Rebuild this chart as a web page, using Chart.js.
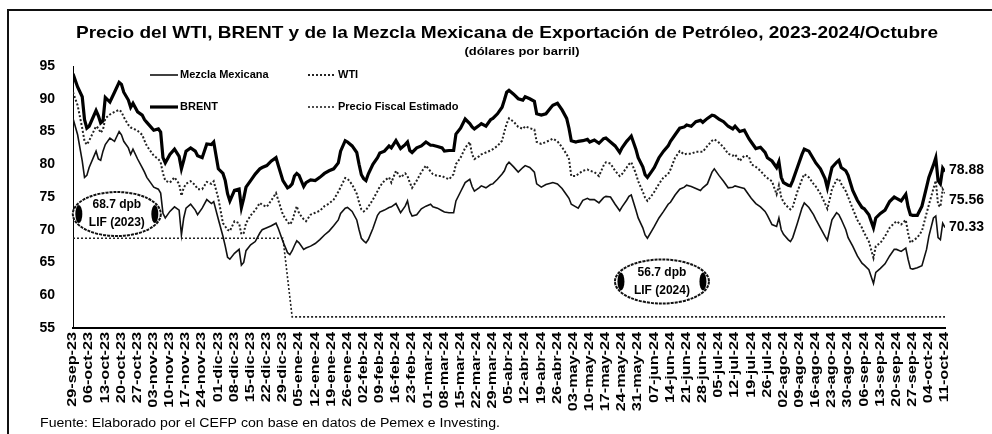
<!DOCTYPE html>
<html lang="es">
<head>
<meta charset="utf-8">
<title>Precio del WTI, BRENT y Mezcla Mexicana</title>
<script src="https://cdn.jsdelivr.net/npm/chart.js@4.4.1/dist/chart.umd.min.js"></script>
<style>
  html, body { margin: 0; padding: 0; background: #fff; }
  #wrap { position: relative; width: 992px; height: 434px; overflow: hidden; }
  #marco { position: absolute; left: 7px; top: 9px; width: 1000px; height: 440px;
           border-left: 2px solid #111; border-top: 2px solid #111; }
  canvas { position: absolute; left: 0; top: 0; }
</style>
</head>
<body>
<div id="wrap">
  <div id="marco"></div>
  <canvas id="grafica" width="992" height="434"></canvas>
</div>
<script>
// etiquetas semanales del eje x (viernes)
const semanas = [
  "29-sep-23","06-oct-23","13-oct-23","20-oct-23","27-oct-23","03-nov-23","10-nov-23","17-nov-23",
  "24-nov-23","01-dic-23","08-dic-23","15-dic-23","22-dic-23","29-dic-23","05-ene-24","12-ene-24",
  "19-ene-24","26-ene-24","02-feb-24","09-feb-24","16-feb-24","23-feb-24","01-mar-24","08-mar-24",
  "15-mar-24","22-mar-24","29-mar-24","05-abr-24","12-abr-24","19-abr-24","26-abr-24","03-may-24",
  "10-may-24","17-may-24","24-may-24","31-may-24","07-jun-24","14-jun-24","21-jun-24","28-jun-24",
  "05-jul-24","12-jul-24","19-jul-24","26-jul-24","02-ago-24","09-ago-24","16-ago-24","23-ago-24",
  "30-ago-24","06-sep-24","13-sep-24","20-sep-24","27-sep-24","04-oct-24","11-oct-24"
];

// dias transcurridos desde el 29-sep-23
const dias = [
  0,2,4,5,6,7,10,11,12,13,14,16,18,20,21,22,24,25,26,28,30,31,32,34,35,37,38,39,40,42,44,46,47,48,49,51,53,54,56,58,60,61,
  63,65,66,67,68,70,72,73,74,75,77,79,81,82,84,86,88,89,91,93,94,95,96,97,98,100,101,103,105,107,109,111,113,115,116,118,119,121,123,124,125,126,
  127,128,130,132,133,135,137,138,140,142,144,145,146,147,149,151,153,155,156,158,160,161,163,165,166,168,170,172,173,174,176,177,179,181,182,184,186,187,188,189,
  191,193,195,196,198,200,201,203,205,207,208,210,212,214,215,216,218,219,221,223,224,226,228,230,231,233,235,237,238,240,241,242,244,245,247,248,249,251,252,254,256,258,
  259,261,263,265,266,268,270,272,273,275,277,278,280,282,284,286,287,289,291,293,294,296,298,300,301,303,305,306,307,308,310,311,312,314,316,317,319,321,322,
  324,326,327,328,329,331,332,333,335,336,338,340,342,343,345,347,348,350,352,354,356,357,359,361,362,363,364,366,368,370,371,373,374,375,376,377,378
];

const brent = [
  93.8,91.8,90.3,86.8,85.5,85.8,88.2,87.4,86.3,86.6,90.2,89.5,91.0,92.5,92.2,91.0,89.8,88.7,89.3,88.0,87.5,86.8,86.4,85.6,85.2,85.4,84.9,81.0,80.2,81.5,82.3,81.2,79.3,80.6,82.0,82.5,82.0,81.3,81.0,83.1,83.0,83.4,
  79.3,78.6,77.5,75.5,74.4,76.0,76.2,73.4,74.8,76.5,77.5,78.5,79.3,79.5,79.8,80.5,81.0,79.8,77.5,76.4,76.6,77.0,78.2,78.6,78.3,76.6,77.2,77.6,77.5,78.0,78.6,79.0,79.3,80.2,82.0,83.6,83.4,82.8,81.8,80.0,78.4,77.8,
  77.5,78.5,80.0,81.0,81.7,82.0,82.8,82.5,83.6,82.4,83.0,83.4,82.1,81.8,82.5,82.8,83.4,82.9,82.9,82.7,82.5,82.0,82.1,82.1,84.6,85.5,86.9,86.2,85.7,85.4,85.9,86.2,85.8,86.8,87.0,87.7,88.7,89.8,91.0,91.3,
  90.7,90.0,89.8,90.3,90.0,89.6,87.7,87.5,87.7,88.6,89.0,89.3,88.3,87.0,85.5,83.6,83.4,83.5,83.6,83.8,83.4,83.7,83.2,83.9,84.0,83.4,82.8,81.8,82.5,83.5,83.9,84.3,82.3,81.0,79.6,78.4,78.0,79.0,79.5,81.0,82.0,82.8,
  83.5,84.5,85.5,85.7,86.0,85.8,86.5,86.7,86.4,87.0,87.5,87.4,86.9,86.5,85.8,85.4,85.8,85.0,85.2,83.9,83.4,82.4,82.6,81.8,81.0,80.5,79.5,80.4,78.0,77.2,76.8,76.7,77.5,79.5,81.5,82.3,82.0,80.8,80.2,
  79.3,77.8,76.4,78.0,79.5,80.3,80.6,79.5,79.0,78.3,76.0,74.5,73.4,73.2,72.3,70.3,71.8,72.5,73.0,74.3,75.0,74.8,74.4,75.4,73.5,72.3,72.2,72.2,73.6,76.5,78.0,79.9,81.0,77.5,77.0,79.4,78.88
];

const wti = [
  91.0,89.0,85.5,83.5,83.0,83.6,85.8,85.5,84.8,85.3,87.0,87.6,88.0,88.3,88.0,87.2,86.0,85.6,85.5,85.1,84.5,83.6,82.8,81.8,81.3,80.8,80.3,78.6,77.5,77.2,78.0,77.0,75.2,76.4,77.0,77.4,76.8,76.2,76.2,77.3,77.0,77.4,
  74.8,71.0,70.5,70.0,69.8,71.3,71.0,69.3,69.5,71.0,72.2,73.0,74.1,73.8,73.5,74.5,75.6,74.5,72.3,71.2,70.8,71.3,72.5,73.6,72.5,71.6,71.3,72.3,72.6,72.9,73.6,74.0,74.6,75.8,76.5,77.9,77.8,76.9,75.5,74.2,73.1,72.8,
  73.0,73.5,74.6,75.9,76.6,77.5,78.0,77.2,79.0,78.0,78.6,78.2,77.2,76.4,77.5,78.8,79.8,78.9,78.5,78.2,78.2,78.0,77.7,78.5,80.0,81.0,82.5,83.4,81.5,80.8,81.2,81.5,81.8,82.1,82.3,82.8,83.6,85.0,86.2,87.0,
  86.5,85.7,85.4,85.8,85.5,85.3,83.4,83.1,83.4,83.7,83.9,83.5,82.6,81.5,80.8,78.2,78.2,78.5,79.0,79.2,79.0,78.8,78.2,79.8,80.3,80.1,79.0,78.2,78.5,79.5,80.0,80.3,78.6,77.4,75.8,74.9,74.4,75.3,75.8,77.0,78.0,78.5,
  79.2,81.0,82.0,81.5,81.6,81.6,81.9,81.9,81.9,82.8,83.6,83.8,83.3,82.6,81.6,81.3,81.5,80.5,81.3,81.2,80.0,79.6,79.0,78.2,77.9,77.4,75.4,76.8,75.0,74.2,73.4,73.1,73.5,75.8,77.7,78.5,78.0,77.0,76.6,
  75.5,74.0,73.2,74.6,76.2,77.6,77.8,77.0,75.9,75.0,73.2,71.5,70.3,69.5,68.2,65.7,67.5,68.0,69.0,70.3,71.0,71.3,70.8,71.5,69.5,68.0,68.3,68.8,69.8,72.5,73.8,76.3,77.5,73.8,73.5,76.2,75.56
];

const mezcla = [
  87.0,84.5,80.5,78.0,78.3,79.5,82.0,80.8,80.6,82.0,83.0,84.0,83.5,85.0,84.5,83.5,82.5,81.5,82.3,80.8,79.5,78.8,78.0,77.0,76.5,76.2,75.6,72.5,71.8,72.8,73.5,73.0,69.2,71.8,73.3,73.9,73.0,72.3,73.3,74.6,74.0,74.3,
  71.6,69.0,67.5,65.8,65.5,66.4,67.0,64.6,65.0,66.8,67.7,68.2,69.5,70.0,70.3,70.6,71.0,70.2,68.2,66.5,66.2,66.8,67.6,68.3,68.0,67.0,67.2,67.5,67.9,68.5,69.2,69.8,70.6,71.5,72.5,73.3,73.4,72.8,71.5,70.0,68.7,68.3,
  68.0,68.5,70.2,72.2,72.7,73.0,73.4,73.5,74.0,72.6,73.6,74.4,72.8,72.1,72.3,73.2,73.6,73.9,73.5,73.3,72.9,72.7,72.6,72.6,74.4,75.8,77.2,77.7,76.6,75.9,76.4,76.7,76.4,76.9,77.0,77.7,78.5,79.0,79.9,80.3,
  79.6,78.8,79.5,79.8,79.5,78.8,77.0,76.5,76.9,77.1,77.2,77.0,76.3,75.3,74.8,73.9,73.5,73.3,74.5,74.8,74.6,74.6,74.1,74.9,75.1,75.0,73.9,72.9,73.5,74.5,75.1,75.3,73.0,71.8,70.3,69.2,68.7,69.9,70.5,71.8,72.8,73.9,
  74.2,75.3,76.2,76.5,76.8,76.6,76.3,76.0,76.4,77.0,78.8,79.3,78.3,77.4,76.4,76.5,76.7,76.5,76.3,75.3,74.8,74.0,73.5,72.8,72.2,70.8,70.5,71.8,70.0,69.3,68.5,68.2,68.8,71.0,73.3,74.1,73.4,72.3,71.6,
  70.3,69.0,68.4,70.0,71.5,72.6,72.3,71.6,70.0,68.8,67.5,66.0,64.9,64.6,63.9,61.8,63.5,64.1,64.8,66.0,67.0,67.0,66.7,67.2,65.5,64.1,64.0,64.2,64.5,67.0,69.0,71.8,72.1,68.8,68.5,71.0,70.33
];

// precio fiscal estimado (LIF 2023 y LIF 2024)
const fiscalDias = [0, 91, 95, 378];
const fiscalValores = [68.7, 68.7, 56.7, 56.7];

const toPoints = (xs, ys) => xs.map((d, i) => ({ x: d, y: ys[i] }));

const titulo = "Precio del WTI, BRENT y de la Mezcla Mexicana de Exportación de Petróleo, 2023-2024/Octubre";
const subtitulo = "(dólares por barril)";
const fuente = "Fuente: Elaborado por el CEFP con base en datos de Pemex e Investing.";

// globos de texto sobre el precio fiscal (en coordenadas de los datos)
const globos = [
  { dia: 19, valor: 72.4, rx: 44, ry: 22, lineas: ["68.7 dpb", "LIF (2023)"] },
  { dia: 255.3, valor: 62.1, rx: 47, ry: 22, lineas: ["56.7 dpb", "LIF (2024)"] }
];

const FAMILIA = '"Liberation Sans", Arial, sans-serif';
Chart.defaults.font.family = FAMILIA;
Chart.defaults.color = "#000";

// texto estirado a lo ancho para imitar la tipografia original
function textoAncho(ctx, txt, x, y, ancho, align) {
  const w = ctx.measureText(txt).width;
  const k = ancho / w;
  ctx.save();
  ctx.translate(x, y);
  ctx.scale(k, 1);
  ctx.textAlign = align;
  ctx.fillText(txt, 0, 0);
  ctx.restore();
}

const extras = {
  id: "extras",
  afterDraw(chart) {
    const { ctx, scales: { x, y } } = chart;
    const ds = chart.data.datasets;
    ctx.save();
    ctx.fillStyle = "#000";
    ctx.textBaseline = "middle";

    // titulo y subtitulo
    ctx.font = "bold 17px " + FAMILIA;
    textoAncho(ctx, titulo, 507, 33, 862, "center");
    ctx.font = "bold 11px " + FAMILIA;
    textoAncho(ctx, subtitulo, 522, 52, 115, "center");

    // etiquetas del eje x (verticales, en la posicion de cada tick)
    ctx.font = "bold 12px " + FAMILIA;
    x.ticks.forEach(t => {
      const lbl = semanas[Math.round(t.value / 7)];
      if (!lbl) return;
      ctx.save();
      ctx.translate(x.getPixelForValue(t.value), x.bottom - 102);
      ctx.rotate(-Math.PI / 2);
      ctx.scale(1.35, 1);
      ctx.textAlign = "right";
      ctx.fillText(lbl, 0, 0);
      ctx.restore();
    });

    // leyenda 2x2 dentro del area
    const items = [
      { i: 0, x: 150, y: 75 }, { i: 1, x: 308, y: 75 },
      { i: 2, x: 150, y: 107 }, { i: 3, x: 308, y: 107 }
    ];
    ctx.textAlign = "left";
    ctx.font = "bold 11px " + FAMILIA;
    items.forEach(it => {
      const d = ds[it.i];
      ctx.beginPath();
      ctx.strokeStyle = d.borderColor;
      ctx.lineWidth = d.borderWidth;
      ctx.setLineDash(d.borderDash || []);
      ctx.moveTo(it.x, it.y);
      ctx.lineTo(it.x + 28, it.y);
      ctx.stroke();
      ctx.setLineDash([]);
      ctx.fillText(d.label, it.x + 30, it.y);
    });

    // globos LIF
    globos.forEach(g => {
      const cx = x.getPixelForValue(g.dia);
      const cy = y.getPixelForValue(g.valor);
      ctx.beginPath();
      ctx.fillStyle = "#fff";
      ctx.ellipse(cx, cy, g.rx, g.ry, 0, 0, Math.PI * 2);
      ctx.fill();
      ctx.lineWidth = 2;
      ctx.strokeStyle = "#111";
      ctx.setLineDash([3, 1]);
      ctx.stroke();
      ctx.setLineDash([]);
      ctx.fillStyle = "#000";
      [-1, 1].forEach(s => {
        ctx.beginPath();
        ctx.ellipse(cx + s * (g.rx - 6), cy, 3.5, 9, 0, 0, Math.PI * 2);
        ctx.fill();
      });
      ctx.textAlign = "center";
      ctx.font = "bold 12px " + FAMILIA;
      ctx.fillText(g.lineas[0], cx, cy - 9);
      ctx.fillText(g.lineas[1], cx, cy + 9);
    });

    // valores finales a la derecha
    ctx.textAlign = "left";
    ctx.font = "bold 14px " + FAMILIA;
    const finales = [
      { serie: brent, dy: -1 }, { serie: wti, dy: 7 }, { serie: mezcla, dy: 0 }
    ];
    finales.forEach(f => {
      const v = f.serie[f.serie.length - 1];
      ctx.fillText(v.toFixed(2), 949, y.getPixelForValue(v) + f.dy);
    });

    // fuente
    ctx.font = "12px " + FAMILIA;
    textoAncho(ctx, fuente, 40, 424, 460, "left");
    ctx.restore();
  }
};

new Chart(document.getElementById("grafica"), {
  type: "line",
  data: {
    datasets: [
      { label: "Mezcla Mexicana", data: toPoints(dias, mezcla), borderColor: "#111", borderWidth: 1.6 },
      { label: "WTI", data: toPoints(dias, wti), borderColor: "#222", borderWidth: 2, borderDash: [2, 2] },
      { label: "BRENT", data: toPoints(dias, brent), borderColor: "#000", borderWidth: 3.2 },
      { label: "Precio Fiscal Estimado", data: toPoints(fiscalDias, fiscalValores), borderColor: "#222", borderWidth: 1.6, borderDash: [2, 2] }
    ]
  },
  options: {
    responsive: false,
    animation: false,
    events: [],
    elements: { point: { radius: 0 }, line: { tension: 0, fill: false } },
    layout: { padding: { left: 0, right: 47, top: 66, bottom: 0 } },
    plugins: { legend: { display: false }, tooltip: { enabled: false }, title: { display: false } },
    scales: {
      x: {
        type: "linear",
        min: 0,
        max: 378,
        afterFit: (s) => { s.height = 106; },
        grid: { display: false, drawTicks: false },
        border: { color: "#000", width: 2 },
        ticks: {
          display: false,
          stepSize: 7,
          maxTicksLimit: 100,
          autoSkip: false
        }
      },
      y: {
        min: 55,
        max: 95,
        afterFit: (s) => { s.width = 73; },
        grid: { display: false, drawTicks: false },
        border: { color: "#000", width: 1 },
        ticks: { stepSize: 5, padding: 18, font: { size: 14, weight: "bold" } }
      }
    }
  },
  plugins: [extras]
});
</script>
</body>
</html>
